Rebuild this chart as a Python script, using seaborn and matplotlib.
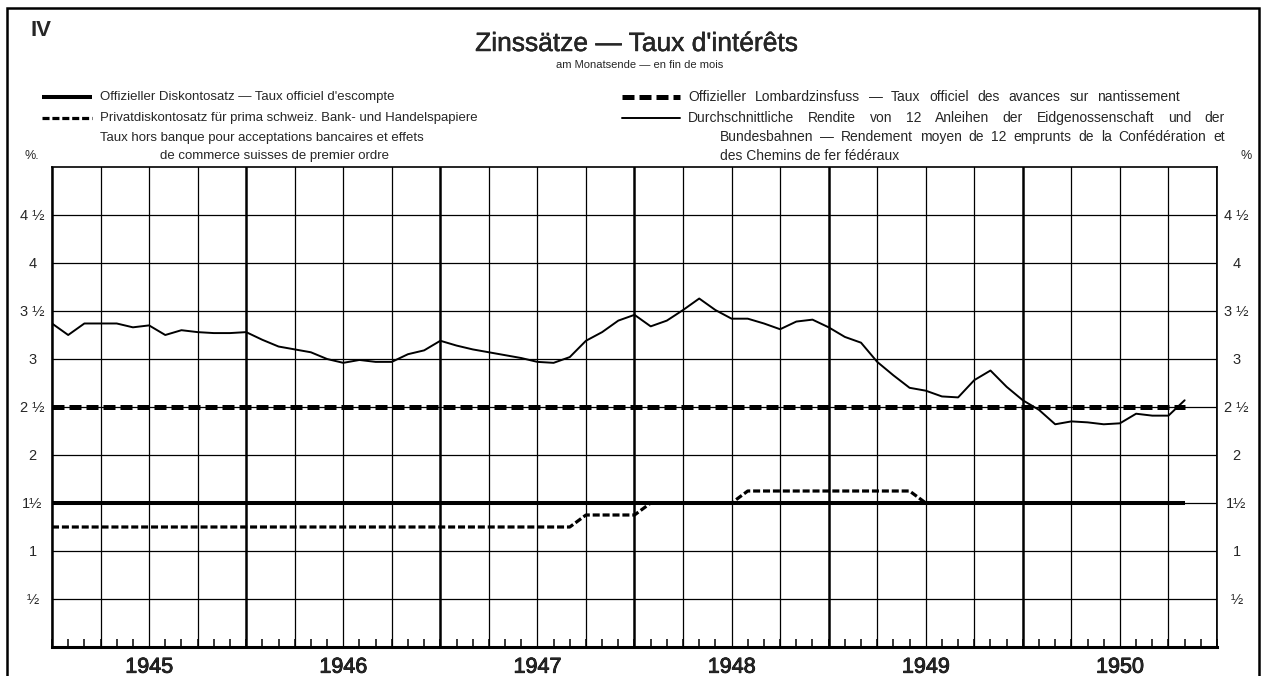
import numpy as np
import pandas as pd
import matplotlib
matplotlib.use("Agg")
import matplotlib.pyplot as plt
import matplotlib.patheffects as pe
import seaborn as sns
from matplotlib.lines import Line2D
from matplotlib.patches import Rectangle

# months counted from the start of 1945 (0 = end of Dec 1944)
yield_months = list(range(71))
yield_pct = [3.37, 3.25, 3.37, 3.37, 3.37, 3.33, 3.35, 3.25, 3.30, 3.28,
             3.27, 3.27, 3.28, 3.20, 3.13, 3.10, 3.07, 3.00, 2.96, 2.99,
             2.97, 2.97, 3.05, 3.09, 3.19, 3.14, 3.10, 3.07, 3.04, 3.01,
             2.97, 2.96, 3.02, 3.19, 3.28, 3.40, 3.46, 3.34, 3.40, 3.51,
             3.63, 3.51, 3.42, 3.42, 3.37, 3.31, 3.39, 3.41, 3.33, 3.23,
             3.17, 2.97, 2.83, 2.70, 2.67, 2.61, 2.60, 2.78, 2.88, 2.71,
             2.57, 2.47, 2.32, 2.35, 2.34, 2.32, 2.33, 2.43, 2.41, 2.41,
             2.57]

discount_months = [0, 70]
discount_pct = [1.5, 1.5]

lombard_months = [0, 70]
lombard_pct = [2.5, 2.5]

private_months = [0, 32, 33, 36, 37, 42, 43, 53, 54, 70]
private_pct = [1.25, 1.25, 1.375, 1.375, 1.5, 1.5, 1.625, 1.625, 1.5, 1.5]

years = ["1945", "1946", "1947", "1948", "1949", "1950"]
ytick_vals = [0.5, 1, 1.5, 2, 2.5, 3, 3.5, 4, 4.5]
ytick_labels = ["½", "1", "1½", "2", "2 ½", "3", "3 ½", "4", "4 ½"]

sns.set_theme(style="white")
plt.rcParams["font.family"] = ["Liberation Sans", "DejaVu Sans"]

W, H = 1267, 676
fig = plt.figure(figsize=(W / 100, H / 100), dpi=100)
ax = fig.add_axes([52 / W, 1 - 647 / H, (1217 - 52) / W, (647 - 167) / H])

def fx(x):
    return x / W

def fy(y):
    return 1 - y / H

# styles
disc_kw = dict(color="black", linewidth=2.9, solid_capstyle="butt")
lomb_kw = dict(color="black", linewidth=3.6, linestyle=(0, (2.4, 1.0)))
priv_kw = dict(color="black", linewidth=2.3, linestyle=(0, (2.2, 0.9)))
yld_kw = dict(color="black", linewidth=1.4)

# grid
for m in range(0, 73, 3):
    ax.axvline(m, color="black", linewidth=1.8 if m % 12 == 0 else 0.9, zorder=1)
for v in ytick_vals:
    ax.axhline(v, color="black", linewidth=0.9, zorder=1)

sns.lineplot(x=discount_months, y=discount_pct, ax=ax, zorder=3, **disc_kw)
sns.lineplot(x=lombard_months, y=lombard_pct, ax=ax, zorder=3, **lomb_kw)
sns.lineplot(x=private_months, y=private_pct, ax=ax, zorder=2, **priv_kw)
sns.lineplot(x=yield_months, y=yield_pct, ax=ax, zorder=4, **yld_kw)

ax.set_xlim(0, 72)
ax.set_ylim(0, 5)
ax.set_xlabel("")
ax.set_ylabel("")

ax.set_xticks([6 + 12 * i for i in range(len(years))])
ax.set_xticklabels(years, fontsize=15.5)
for lab in ax.get_xticklabels():
    lab.set_path_effects([pe.withStroke(linewidth=0.6, foreground="black")])
ax.set_xticks(range(0, 73), minor=True)
ax.tick_params(axis="x", which="major", length=0, pad=7)
ax.tick_params(axis="x", which="minor", direction="in", length=6, width=1.1,
               color="black", bottom=True, top=False)

ax.set_yticks(ytick_vals)
ax.set_yticklabels(ytick_labels, fontsize=10.5)
ax.tick_params(axis="y", length=0, pad=14, labelleft=True, labelright=True)
for t in ax.yaxis.get_major_ticks():
    t.label1.set_horizontalalignment("center")
    t.label2.set_horizontalalignment("center")

for side in ["left", "right", "top"]:
    ax.spines[side].set_color("black")
    ax.spines[side].set_linewidth(1.2)
ax.spines["bottom"].set_color("black")
ax.spines["bottom"].set_linewidth(2.2)

# frame around the sheet
fig.add_artist(Rectangle((fx(7), -0.05), fx(1259) - fx(7), fy(8) + 0.05,
                         transform=fig.transFigure, fill=False,
                         edgecolor="black", linewidth=1.8))

# header
fig.text(fx(31), fy(31), "IV", fontsize=16, fontweight="bold", va="center")
fig.text(fx(637), fy(44), "Zinssätze — Taux d'intérêts", fontsize=19,
         ha="center", va="center",
         path_effects=[pe.withStroke(linewidth=0.3, foreground="black")])
fig.text(fx(640), fy(65), "am Monatsende — en fin de mois", fontsize=8,
         ha="center", va="center")

# legend keys and texts
fig.add_artist(Line2D([fx(42), fx(92)], [fy(97), fy(97)], **disc_kw))
fig.add_artist(Line2D([fx(42), fx(92)], [fy(118), fy(118)], **priv_kw))
fig.add_artist(Line2D([fx(622), fx(680)], [fy(97), fy(97)], **lomb_kw))
fig.add_artist(Line2D([fx(622), fx(680)], [fy(118), fy(118)], **yld_kw))

lg = dict(fontsize=9.5, va="center")
rg = dict(fontsize=10, va="center")
renderer = fig.canvas.get_renderer()


def justified(x0, x1, y, s):
    # spread the words of one line evenly between x0 and x1 (pixels)
    words = s.split(" ")
    texts = [fig.text(0, fy(y), w, **rg) for w in words]
    widths = [t.get_window_extent(renderer).width for t in texts]
    gap = ((x1 - x0) - sum(widths)) / (len(words) - 1)
    x = x0
    for t, w in zip(texts, widths):
        t.set_x(fx(x))
        x += w + gap


fig.text(fx(100), fy(97), "Offizieller Diskontosatz — Taux officiel d'escompte", **lg)
fig.text(fx(100), fy(118), "Privatdiskontosatz für prima schweiz. Bank- und Handelspapiere", **lg)
fig.text(fx(100), fy(138), "Taux hors banque pour acceptations bancaires et effets", **lg)
fig.text(fx(160), fy(156), "de commerce suisses de premier ordre", **lg)
justified(688, 1180, 97, "Offizieller Lombardzinsfuss — Taux officiel des avances sur nantissement")
justified(688, 1225, 118, "Durchschnittliche Rendite von 12 Anleihen der Eidgenossenschaft und der")
justified(720, 1225, 137, "Bundesbahnen — Rendement moyen de 12 emprunts de la Confédération et")
fig.text(fx(720), fy(156), "des Chemins de fer fédéraux", **rg)

fig.text(fx(32), fy(156), "%.", fontsize=9, ha="center", va="center")
fig.text(fx(1246), fy(156), "%", fontsize=9, ha="center", va="center")

fig.savefig("out.png", dpi=100)
